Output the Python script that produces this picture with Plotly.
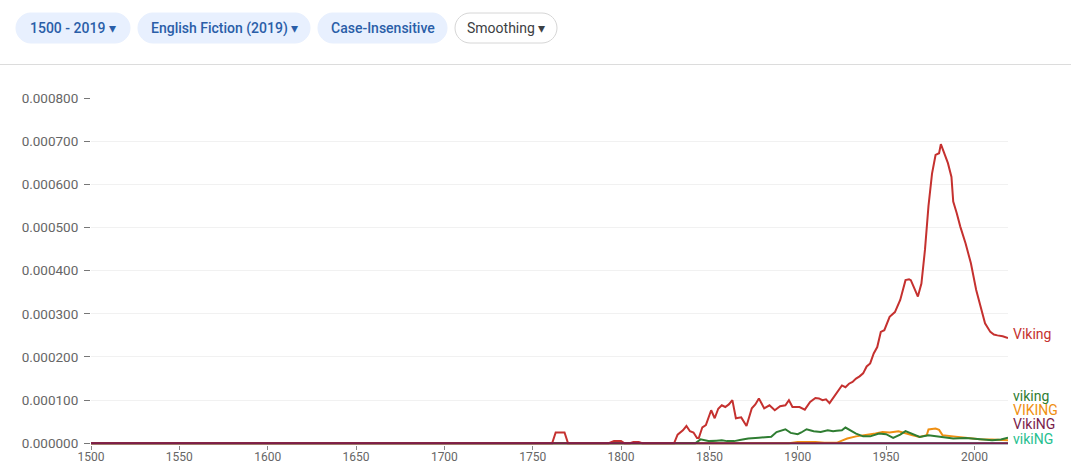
import plotly.graph_objects as go

# values in percent
viking_cap_years = [1500, 1761, 1763, 1768, 1770, 1793, 1796, 1800, 1802, 1805, 1807, 1810, 1812,
                    1830, 1832, 1835, 1837, 1839, 1841, 1843, 1844, 1846, 1848, 1851, 1853, 1855,
                    1857, 1859, 1861, 1863, 1865, 1868, 1871, 1874, 1876, 1878, 1881, 1884, 1887,
                    1890, 1893, 1895, 1897, 1901, 1904, 1907, 1910, 1912, 1914, 1916, 1918, 1920,
                    1922, 1925, 1927, 1929, 1931, 1933, 1935, 1937, 1939, 1941, 1943, 1945, 1947,
                    1949, 1952, 1955, 1958, 1961, 1963, 1964, 1966, 1968, 1970, 1972, 1974, 1976,
                    1978, 1980, 1981, 1983, 1985, 1987, 1988, 1990, 1992, 1995, 1998, 2001, 2004,
                    2006, 2009, 2011, 2013, 2016, 2019]
viking_cap = [0, 0, 0.000025, 0.000025, 0, 0, 0.000005, 0.000005, 0, 0, 0.000003, 0.000003, 0,
              0, 0.000020, 0.000030, 0.000040, 0.000028, 0.000025, 0.000012, 0.000012, 0.000037,
              0.000042, 0.0000765, 0.000058, 0.000080, 0.000088, 0.000084, 0.000090, 0.000100,
              0.000058, 0.000060, 0.000040, 0.000081, 0.000090, 0.000104, 0.000081, 0.000088,
              0.0000765, 0.000086, 0.000088, 0.000100, 0.000084, 0.000084, 0.000078, 0.000096,
              0.000105, 0.000104, 0.000100, 0.000102, 0.000093, 0.000105, 0.000116, 0.000134,
              0.000130, 0.000138, 0.000142, 0.000150, 0.000155, 0.000162, 0.000178, 0.000185,
              0.000208, 0.000223, 0.000258, 0.000262, 0.000293, 0.000304, 0.000332, 0.000378,
              0.000380, 0.000378, 0.000359, 0.000340, 0.000370, 0.000448, 0.000550, 0.000625,
              0.000668, 0.000672, 0.000693, 0.000672, 0.000649, 0.000617, 0.000560, 0.000533,
              0.000502, 0.000463, 0.000417, 0.000355, 0.000308, 0.000278, 0.000258, 0.000252,
              0.000250, 0.000248, 0.000244]

viking_low_years = [1500, 1842, 1845, 1848, 1850, 1854, 1857, 1860, 1864, 1868, 1872, 1878, 1882,
                    1885, 1888, 1891, 1893, 1896, 1900, 1902, 1905, 1909, 1913, 1917, 1920, 1922,
                    1925, 1927, 1930, 1933, 1937, 1941, 1946, 1950, 1954, 1958, 1961, 1965, 1969,
                    1974, 1980, 1988, 1995, 2004, 2010, 2015, 2019]
viking_low = [0, 0, 0.000009, 0.000006, 0.000005, 0.000006, 0.000007, 0.000005, 0.000005,
              0.000008, 0.000011, 0.000013, 0.000014, 0.000015, 0.000026, 0.000030, 0.0000325,
              0.000024, 0.000021, 0.000025, 0.0000325, 0.000028, 0.000026, 0.000030, 0.000028,
              0.000029, 0.000030, 0.0000364, 0.0000285, 0.0000225, 0.000016, 0.000016,
              0.0000225, 0.000021, 0.0000123, 0.000020, 0.000028, 0.000021, 0.0000146,
              0.0000186, 0.000016, 0.000011, 0.0000123, 0.0000086, 0.000007, 0.000009, 0.000013]

viking_up_years = [1500, 1895, 1900, 1910, 1915, 1922, 1925, 1928, 1933, 1939, 1944, 1948, 1952,
                   1957, 1960, 1965, 1969, 1973, 1974, 1978, 1980, 1982, 1988, 1995, 2003, 2010, 2019]
viking_up = [0, 0, 0.000003, 0.000003, 0.000001, 0.000001, 0.000006, 0.000011, 0.000016,
             0.000019, 0.0000225, 0.000026, 0.000025, 0.000028, 0.000024, 0.0000186, 0.0000146,
             0.0000186, 0.000032, 0.000034, 0.000031, 0.0000186, 0.000016, 0.000013, 0.0000093,
             0.0000086, 0.000007]

flat_years = [1500, 2019]
viking_ng_cap = [0, 0]
viking_ng_low = [0, 0]

x_ticks = [1500, 1550, 1600, 1650, 1700, 1750, 1800, 1850, 1900, 1950, 2000]
y_ticks = [0, 0.0001, 0.0002, 0.0003, 0.0004, 0.0005, 0.0006, 0.0007, 0.0008]

# drawing order: last one ends on top
series = [
    ("vikiNG", flat_years, viking_ng_low, "#26c08f", 4),
    ("VIKING", viking_up_years, viking_up, "#ef8f12", 30),
    ("viking", viking_low_years, viking_low, "#2f7d32", 42),
    ("Viking", viking_cap_years, viking_cap, "#c5312f", 4),
    ("VikiNG", flat_years, viking_ng_cap, "#7a1d4c", 19),
]

W, H = 1071, 474
ML, MR, MT, MB = 91, 63, 98, 29


def px(x):
    return (x - ML) / (W - ML - MR)


def py(y):
    return (H - MB - y) / (H - MT - MB)


fig = go.Figure()
for name, xs, ys, color, shift in series:
    fig.add_trace(go.Scatter(x=xs, y=ys, mode="lines", name=name,
                             line=dict(color=color, width=2), hoverinfo="x+y+name"))
    fig.add_annotation(x=xs[-1], y=ys[-1], xref="x", yref="y", text=name, showarrow=False,
                       xanchor="left", yanchor="middle", xshift=3, yshift=shift,
                       font=dict(family="Roboto", size=14, color=color))

# chips above the chart
chips = [
    ("1500 - 2019 ▾", 16, 130, "#e8f0fe", "#e8f0fe", "#2a5ea8", 500),
    ("English Fiction (2019) ▾", 138, 310, "#e8f0fe", "#e8f0fe", "#2a5ea8", 500),
    ("Case-Insensitive", 318, 447, "#e8f0fe", "#e8f0fe", "#2a5ea8", 500),
    ("Smoothing ▾", 455, 557, "#ffffff", "#d6d6d6", "#3c4043", 400),
]
r = 15
k = r * 0.5523
for text, x0, x1, fill, border, tcolor, weight in chips:
    hw = (x1 - x0) / 2
    a = -hw + r
    b = hw - r
    path = (f"M {a},{-r} L {b},{-r} C {b + k},{-r} {hw},{-k} {hw},0 "
            f"C {hw},{k} {b + k},{r} {b},{r} L {a},{r} "
            f"C {a - k},{r} {-hw},{k} {-hw},0 C {-hw},{-k} {a - k},{-r} {a},{-r} Z")
    fig.add_shape(type="path", xref="paper", yref="paper", xsizemode="pixel", ysizemode="pixel",
                  xanchor=px((x0 + x1) / 2), yanchor=py(28), path=path,
                  fillcolor=fill, line=dict(color=border, width=1), layer="above")
    fig.add_annotation(x=px((x0 + x1) / 2), y=py(28), xref="paper", yref="paper", text=text,
                       showarrow=False, xanchor="center", yanchor="middle",
                       font=dict(family="Roboto", size=14, color=tcolor, weight=weight))

fig.add_shape(type="line", xref="paper", yref="paper", x0=px(0), x1=px(W), y0=py(64.5),
              y1=py(64.5), line=dict(color="#dcdcdc", width=1))

fig.update_layout(
    width=W, height=H,
    margin=dict(l=ML, r=MR, t=MT, b=MB),
    paper_bgcolor="white", plot_bgcolor="white",
    showlegend=False,
    font=dict(family="Roboto", color="#666666"),
    xaxis=dict(range=[1500, 2019], tickvals=x_ticks, ticks="outside", ticklen=4,
               tickcolor="#888888", showgrid=False, zeroline=False, showline=False,
               automargin=False, ticklabelstandoff=-3,
               tickfont=dict(size=12, color="#666666")),
    yaxis=dict(range=[-0.000004, 0.0008], tickvals=y_ticks, tickformat=".6f", ticksuffix="%",
               ticks="outside", ticklen=6, tickcolor="#777777", gridcolor="#f1f1f1",
               zeroline=False, showline=False, automargin=False, ticklabelstandoff=3,
               tickfont=dict(size=13.5, color="#666666")),
)

fig.write_html("out.html", config={"displayModeBar": False},
               post_script="document.body.style.margin='0';")
